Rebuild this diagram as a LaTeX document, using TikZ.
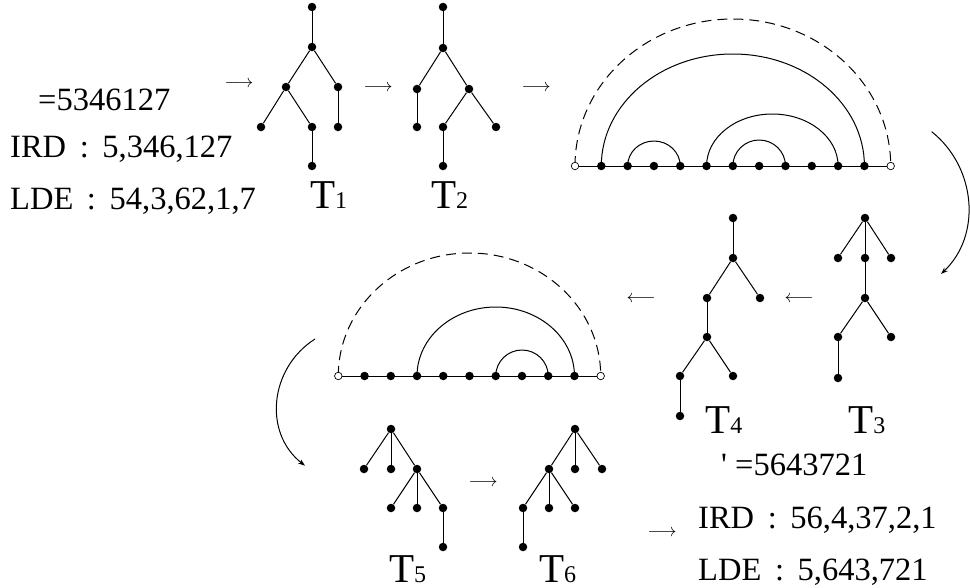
\RequirePackage{fix-cm}
\documentclass[tikz,border=0pt]{standalone}
\usepackage{fontspec}
\setmainfont{Liberation Serif}
\usepackage{tikz}
\usetikzlibrary{arrows.meta, backgrounds}
\newcommand{\wcolon}{\hspace{0.42em}:\hspace{0.42em}}
\newcommand{\tname}[1]{{\fontsize{41}{41}\selectfont T}{\fontsize{24}{24}\selectfont #1}}

\begin{document}
\begin{tikzpicture}[x=1pt, y=1pt,
    dot/.style={circle, fill, inner sep=0pt, minimum size=8.5pt},
    hollow/.style={circle, draw, fill=white, line width=0.7pt, inner sep=0pt, minimum size=7.5pt},
    edge/.style={line width=1pt},
    txt/.style={anchor=base west, inner sep=0pt, font=\fontsize{32.5}{32.5}\selectfont},
    lbl/.style={anchor=base west, inner sep=0pt},
    arr/.style={anchor=base, inner sep=0pt, font=\fontsize{18}{18}\selectfont},
    bent/.style={line width=1pt, -{Stealth[length=7pt, width=5pt]}}
]
    \useasboundingbox (0,0) rectangle (970,-587);

    \node[txt] (pi1) at (38,-110) {=5346127};
    \node[txt] (ird1) at (10,-157) {IRD\wcolon 5,346,127};
    \node[txt] (lde1) at (10,-209) {LDE\wcolon 54,3,62,1,7};

    \node[arr] (ar1) at (239,-87.5) {$\longrightarrow$};
    \node[arr] (ar2) at (378,-91) {$\longrightarrow$};
    \node[arr] (ar3) at (536,-91) {$\longrightarrow$};
    \node[arr] (ar4) at (799,-302) {$\longleftarrow$};
    \node[arr] (ar5) at (641,-302) {$\longleftarrow$};
    \node[arr] (ar6) at (483,-486) {$\longrightarrow$};
    \node[arr] (ar7) at (662,-536) {$\longrightarrow$};

    % T1
    \foreach \n/\x/\y in {r/312/7, b/312/47, c/286/87, d/338/87, e/261/127, f/312/127, g/338/127, h/312/166}
        \node[dot] (t1\n) at (\x,-\y) {};
    \foreach \a/\b in {r/b, b/c, b/d, c/e, c/f, d/g, f/h}
        \draw[edge] (t1\a) -- (t1\b);
    \node[lbl] (T1) at (310,-208) {\tname{1}};

    % T2
    \foreach \n/\x/\y in {r/443/7, b/443/48, c/417/89, d/469/89, e/417/127, f/443/127, g/496/127, h/443/166}
        \node[dot] (t2\n) at (\x,-\y) {};
    \foreach \a/\b in {r/b, b/c, b/d, c/e, d/f, d/g, f/h}
        \draw[edge] (t2\a) -- (t2\b);
    \node[lbl] (T2) at (431,-208) {\tname{2}};

    % first arc diagram
    \node[hollow] (p0) at (575,-166) {};
    \foreach \i in {1,...,11}
        \node[dot] (p\i) at ({575+26.31*\i},-166) {};
    \node[hollow] (p12) at (890.7,-166) {};
    \begin{scope}[on background layer]
        \draw[edge] (p0) -- (p12);
        \draw[edge, dash pattern=on 10pt off 6pt] (p0) arc[start angle=180, end angle=0, x radius=157.85, y radius=147];
        \draw[edge] (p1) arc[start angle=180, end angle=0, x radius=131.55, y radius=112];
        \draw[edge] (p2) arc[start angle=180, end angle=0, x radius=26.31, y radius=25];
        \draw[edge] (p5) arc[start angle=180, end angle=0, x radius=65.78, y radius=52];
        \draw[edge] (p6) arc[start angle=180, end angle=0, x radius=26.31, y radius=26];
    \end{scope}

    \coordinate (r1) at (931.7,-131.7);
    \coordinate (r2) at (941,-274);
    \draw[bent] (r1) .. controls (976,-167) and (982,-235) .. (r2);

    % T3
    \foreach \n/\x/\y in {r/865/218, a/838/258, b/865/258, c/891/258, d/865/298, e/838/337, f/891/337, g/838/378}
        \node[dot] (t3\n) at (\x,-\y) {};
    \foreach \a/\b in {r/a, r/b, r/c, b/d, d/e, d/f, e/g}
        \draw[edge] (t3\a) -- (t3\b);
    \node[lbl] (T3) at (848,-433) {\tname{3}};

    % T4
    \foreach \n/\x/\y in {r/733/218, b/733/258, c/707/298, d/760/298, e/707/337, f/680/376, g/733/376, h/680/416}
        \node[dot] (t4\n) at (\x,-\y) {};
    \foreach \a/\b in {r/b, b/c, b/d, c/e, e/f, e/g, f/h}
        \draw[edge] (t4\a) -- (t4\b);
    \node[lbl] (T4) at (705,-433) {\tname{4}};

    % second arc diagram
    \node[hollow] (s0) at (338.3,-376) {};
    \foreach \i in {1,...,9}
        \node[dot] (s\i) at ({338.3+26.24*\i},-376) {};
    \node[hollow] (s10) at (600.7,-376) {};
    \begin{scope}[on background layer]
        \draw[edge] (s0) -- (s10);
        \draw[edge, dash pattern=on 10pt off 6pt] (s0) arc[start angle=180, end angle=0, x radius=131.2, y radius=123];
        \draw[edge] (s3) arc[start angle=180, end angle=0, x radius=78.72, y radius=69];
        \draw[edge] (s6) arc[start angle=180, end angle=0, x radius=26.24, y radius=26];
    \end{scope}

    \coordinate (l1) at (315,-339);
    \coordinate (l2) at (305,-465.7);
    \draw[bent] (l1) .. controls (269.7,-367.8) and (262.8,-432.6) .. (l2);

    % T5
    \foreach \n/\x/\y in {r/391/429, a/364/469, b/391/469, c/417/469, d/391/508, e/417/508, f/443/508, g/443/547}
        \node[dot] (t5\n) at (\x,-\y) {};
    \foreach \a/\b in {r/a, r/b, r/c, c/d, c/e, c/f, f/g}
        \draw[edge] (t5\a) -- (t5\b);
    \node[lbl] (T5) at (389,-582) {\tname{5}};

    % T6
    \foreach \n/\x/\y in {r/575/429, a/549/469, b/575/469, c/602/469, d/523/508, e/549/508, f/575/508, g/523/547}
        \node[dot] (t6\n) at (\x,-\y) {};
    \foreach \a/\b in {r/a, r/b, r/c, a/d, a/e, a/f, d/g}
        \draw[edge] (t6\a) -- (t6\b);
    \node[lbl] (T6) at (539,-582) {\tname{6}};

    \node[txt] (pi2) at (721,-475) {\textquotesingle\ =5643721};
    \node[txt] (ird2) at (698,-528) {IRD\wcolon 56,4,37,2,1};
    \node[txt] (lde2) at (698,-580) {LDE\wcolon 5,643,721};
\end{tikzpicture}
\end{document}
